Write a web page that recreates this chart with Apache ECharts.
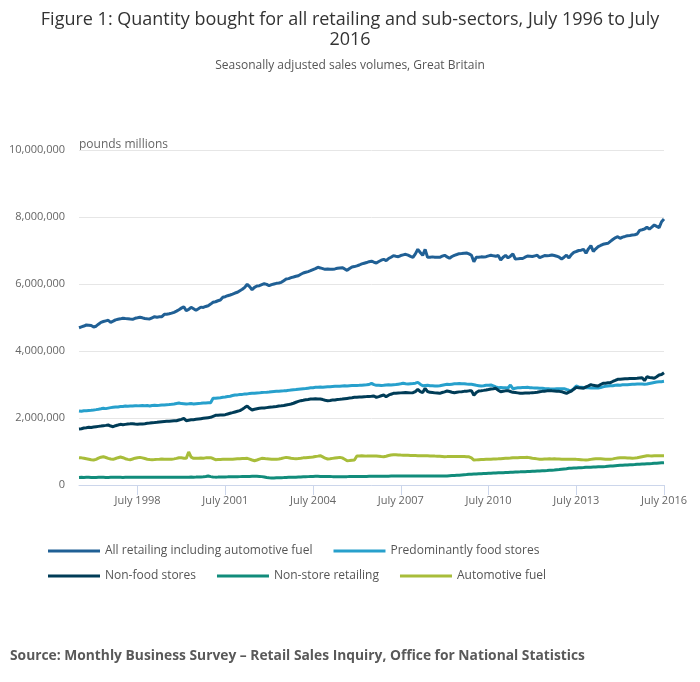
<!DOCTYPE html>
<html>
<head>
<meta charset="utf-8">
<title>Figure 1: Quantity bought for all retailing and sub-sectors</title>
<script src="https://cdn.jsdelivr.net/npm/echarts/dist/echarts.min.js"></script>
<style>
    html, body { margin: 0; padding: 0; background: #fff; }
    #chart { width: 700px; height: 682px; }
</style>
</head>
<body>
<div id="chart"></div>
<script>
// monthly values, July 1996 .. July 2016, in thousands of "pounds millions"
// one row = one year starting in July
const allRetailing = [
    4695, 4720, 4745, 4776, 4770, 4760, 4716, 4740, 4800, 4856, 4880, 4900,
    4916, 4856, 4890, 4930, 4946, 4960, 4976, 4970, 4965, 4955, 4946, 4975,
    4990, 5006, 4990, 4970, 4960, 4956, 4990, 5024, 5010, 5020, 5024, 5095,
    5100, 5110, 5130, 5155, 5190, 5233, 5280, 5323, 5203, 5240, 5304, 5260,
    5213, 5260, 5310, 5300, 5330, 5352, 5400, 5453, 5470, 5500, 5522, 5603,
    5620, 5650, 5672, 5700, 5730, 5752, 5800, 5842, 5900, 5991, 5920, 5830,
    5900, 5940, 5950, 5980, 6009, 5990, 5949, 5980, 6000, 6020, 6030, 6050,
    6100, 6149, 6160, 6190, 6209, 6230, 6248, 6290, 6328, 6350, 6370, 6397,
    6430, 6460, 6498, 6480, 6460, 6438, 6445, 6440, 6438, 6450, 6470, 6480,
    6487, 6450, 6408, 6460, 6507, 6520, 6540, 6567, 6600, 6620, 6640, 6666,
    6680, 6650, 6627, 6670, 6710, 6737, 6697, 6760, 6800, 6846, 6830, 6816,
    6850, 6870, 6887, 6860, 6826, 6796, 6900, 7035, 6940, 6856, 7035, 6796,
    6800, 6810, 6800, 6795, 6796, 6830, 6856, 6810, 6767, 6820, 6856, 6880,
    6906, 6910, 6920, 6925, 6900, 6856, 6666, 6796, 6800, 6810, 6805, 6816,
    6840, 6856, 6840, 6830, 6850, 6716, 6800, 6856, 6780, 6830, 6896, 6747,
    6750, 6760, 6760, 6800, 6836, 6830, 6820, 6840, 6856, 6790, 6820, 6850,
    6845, 6850, 6866, 6850, 6830, 6800, 6747, 6800, 6860, 6777, 6880, 6946,
    6970, 7000, 7010, 7035, 6916, 7050, 7143, 6975, 7050, 7114, 7150, 7184,
    7200, 7214, 7273, 7330, 7380, 7412, 7363, 7400, 7420, 7442, 7450, 7460,
    7470, 7492, 7601, 7620, 7641, 7700, 7640, 7700, 7761, 7720, 7681, 7860,
    7940
];
const foodStores = [
    2209, 2200, 2215, 2219, 2225, 2230, 2239, 2250, 2262, 2275, 2289, 2280,
    2295, 2310, 2319, 2325, 2330, 2340, 2345, 2358, 2350, 2355, 2360, 2365,
    2362, 2368, 2370, 2365, 2372, 2360, 2375, 2380, 2372, 2378, 2385, 2390,
    2395, 2400, 2408, 2420, 2435, 2448, 2430, 2425, 2418, 2422, 2430, 2420,
    2428, 2435, 2438, 2445, 2450, 2455, 2458, 2587, 2590, 2600, 2605, 2617,
    2625, 2640, 2650, 2670, 2687, 2690, 2700, 2705, 2715, 2720, 2728, 2736,
    2740, 2745, 2750, 2760, 2765, 2770, 2776, 2785, 2790, 2795, 2800, 2805,
    2810, 2816, 2825, 2835, 2845, 2850, 2860, 2868, 2876, 2880, 2890, 2900,
    2905, 2915, 2920, 2925, 2918, 2928, 2935, 2935, 2940, 2945, 2950, 2948,
    2955, 2960, 2958, 2965, 2968, 2970, 2972, 2975, 2980, 2985, 2990, 3000,
    3035, 2995, 2975, 2980, 2970, 2975, 2985, 2990, 2985, 2995, 3000, 3010,
    3020, 3035, 3020, 3015, 3025, 3030, 3040, 3065, 3010, 2965, 2970, 2975,
    2960, 2965, 2958, 2955, 2965, 2980, 2995, 3005, 3000, 3010, 3020, 3025,
    3030, 3020, 3025, 3015, 3010, 3005, 2990, 2975, 2965, 2955, 2960, 2975,
    2980, 2985, 2960, 2930, 2905, 2910, 2900, 2905, 2895, 2985, 2875, 2890,
    2900, 2905, 2910, 2912, 2915, 2905, 2900, 2898, 2895, 2890, 2888, 2880,
    2875, 2870, 2868, 2865, 2870, 2872, 2870, 2875, 2850, 2830, 2816, 2880,
    2955, 2930, 2915, 2910, 2905, 2900, 2898, 2895, 2900, 2895, 2910, 2930,
    2945, 2955, 2960, 2965, 2975, 2985, 2980, 2990, 2992, 2995, 3000, 3005,
    3010, 3015, 3012, 3018, 3010, 3015, 3030, 3045, 3060, 3075, 3080, 3085,
    3095
];
const nonFoodStores = [
    1672, 1680, 1700, 1710, 1722, 1715, 1730, 1740, 1750, 1760, 1771, 1780,
    1791, 1760, 1741, 1770, 1790, 1811, 1800, 1810, 1820, 1825, 1831, 1820,
    1815, 1818, 1821, 1830, 1840, 1850, 1861, 1865, 1870, 1880, 1890, 1895,
    1900, 1905, 1910, 1915, 1920, 1940, 1960, 1990, 1920, 1935, 1945, 1950,
    1960, 1970, 1980, 1990, 2000, 2010, 2020, 2050, 2080, 2085, 2088, 2090,
    2100, 2120, 2140, 2159, 2180, 2200, 2219, 2260, 2310, 2358, 2290, 2239,
    2260, 2275, 2289, 2295, 2300, 2310, 2319, 2325, 2335, 2345, 2358, 2365,
    2375, 2390, 2400, 2418, 2440, 2470, 2495, 2517, 2530, 2545, 2555, 2567,
    2570, 2575, 2570, 2567, 2550, 2530, 2517, 2525, 2535, 2540, 2550, 2557,
    2565, 2575, 2585, 2595, 2605, 2617, 2620, 2625, 2630, 2637, 2640, 2645,
    2650, 2657, 2617, 2640, 2665, 2687, 2637, 2680, 2710, 2736, 2740, 2745,
    2750, 2756, 2760, 2755, 2750, 2756, 2790, 2856, 2790, 2760, 2886, 2790,
    2766, 2760, 2750, 2745, 2736, 2760, 2780, 2806, 2790, 2770, 2756, 2770,
    2780, 2786, 2795, 2800, 2810, 2816, 2677, 2760, 2806, 2815, 2825, 2836,
    2850, 2865, 2875, 2886, 2830, 2786, 2800, 2810, 2816, 2790, 2766, 2760,
    2750, 2736, 2740, 2745, 2750, 2750, 2755, 2760, 2770, 2786, 2795, 2800,
    2810, 2816, 2810, 2805, 2800, 2795, 2786, 2760, 2736, 2770, 2800, 2860,
    2915, 2900, 2895, 2886, 2930, 2960, 2995, 2975, 2965, 2955, 3000, 3035,
    3040, 3050, 3055, 3090, 3120, 3154, 3160, 3165, 3170, 3174, 3178, 3180,
    3182, 3184, 3195, 3204, 3114, 3234, 3210, 3200, 3184, 3230, 3284, 3300,
    3353
];
const nonStoreRetailing = [
    225, 228, 226, 230, 228, 225, 224, 226, 228, 230, 229, 227,
    226, 228, 230, 231, 229, 228, 227, 229, 230, 232, 231, 230,
    229, 230, 231, 232, 230, 229, 231, 232, 233, 231, 230, 232,
    233, 234, 232, 231, 233, 234, 235, 233, 232, 234, 236, 235,
    236, 238, 240, 245, 255, 269, 250, 240, 235, 236, 238, 240,
    242, 243, 245, 244, 246, 248, 250, 252, 254, 255, 257, 258,
    259, 258, 255, 250, 240, 225, 215, 209, 212, 215, 218, 220,
    222, 225, 228, 230, 232, 235, 238, 240, 243, 246, 250, 254,
    257, 259, 258, 256, 255, 254, 252, 251, 250, 250, 249, 249,
    249, 250, 250, 251, 252, 252, 253, 254, 255, 256, 257, 258,
    258, 259, 259, 260, 261, 262, 263, 264, 265, 266, 267, 268,
    268, 269, 269, 270, 269, 268, 269, 270, 269, 268, 269, 270,
    269, 268, 269, 270, 269, 269, 269, 272, 276, 280, 284, 288,
    292, 298, 304, 310, 318, 322, 326, 330, 334, 338, 342, 346,
    350, 353, 356, 359, 362, 365, 368, 372, 375, 379, 382, 386,
    389, 392, 396, 399, 402, 405, 409, 413, 418, 421, 425, 429,
    433, 438, 443, 448, 455, 462, 470, 478, 486, 497, 502, 506,
    510, 514, 518, 522, 527, 530, 533, 536, 539, 542, 545, 547,
    552, 558, 564, 570, 576, 582, 587, 590, 594, 598, 602, 606,
    610, 617, 621, 625, 628, 632, 636, 640, 647, 652, 657, 662,
    667
];
const automotiveFuel = [
    815, 810, 800, 785, 770, 755, 746, 765, 800, 830, 845, 820,
    795, 775, 766, 790, 815, 835, 815, 785, 765, 756, 775, 800,
    815, 825, 810, 790, 770, 760, 756, 760, 765, 770, 776, 772,
    768, 766, 770, 780, 795, 815, 812, 800, 795, 985, 830, 795,
    798, 800, 805, 800, 810, 812, 815, 790, 756, 760, 762, 765,
    768, 765, 766, 770, 775, 780, 785, 790, 792, 795, 770, 745,
    726, 745, 770, 795, 790, 780, 775, 770, 768, 766, 775, 790,
    810, 825, 815, 800, 790, 785, 792, 800, 810, 815, 820, 825,
    835, 850, 862, 875, 840, 800, 776, 785, 795, 805, 815, 825,
    810, 770, 726, 730, 740, 746, 865, 868, 870, 866, 862, 865,
    866, 868, 865, 860, 850, 845, 860, 880, 895, 905, 900, 895,
    892, 890, 888, 885, 882, 880, 878, 876, 875, 875, 872, 870,
    868, 865, 862, 860, 855, 850, 845, 848, 852, 850, 848, 850,
    852, 850, 848, 845, 840, 810, 746, 750, 755, 760, 762, 766,
    770, 772, 775, 778, 780, 785, 790, 795, 800, 805, 815, 812,
    815, 818, 820, 822, 825, 815, 800, 790, 780, 766, 770, 775,
    778, 780, 778, 780, 778, 775, 772, 770, 768, 766, 766, 768,
    765, 760, 755, 750, 746, 755, 765, 775, 780, 785, 780, 775,
    770, 768, 766, 780, 795, 805, 815, 812, 810, 808, 805, 802,
    805, 815, 830, 845, 860, 875, 870, 868, 870, 872, 874, 875,
    875
];

// only these months get a label and a tick
const xTickLabels = ["July 1998", "July 2001", "July 2004", "July 2007", "July 2010", "July 2013", "July 2016"];
const monthNames = ["January", "February", "March", "April", "May", "June", "July",
    "August", "September", "October", "November", "December"];

const seriesNames = [
    "All retailing including automotive fuel",
    "Predominantly food stores",
    "Non-food stores",
    "Non-store retailing",
    "Automotive fuel"
];
const seriesColors = ["#206095", "#27a0cc", "#003c57", "#118c7b", "#a8bd3a"];

// category labels: July 1996 .. July 2016
let months = [];
for (let i = 0; i < allRetailing.length; i++) {
    const m = (6 + i) % 12;
    const y = 1996 + Math.floor((6 + i) / 12);
    months.push(monthNames[m] + " " + y);
}

const toUnits = function (arr) {
    return arr.map(function (v) { return v * 1000; });
};
const seriesData = [allRetailing, foodStores, nonFoodStores, nonStoreRetailing, automotiveFuel];

const font = "'Open Sans', 'Noto Sans', sans-serif";
const showTick = function (index, value) {
    return xTickLabels.indexOf(value) >= 0;
};
const legendBase = {
    left: 48,
    padding: 0,
    icon: 'rect',
    itemWidth: 52,
    itemHeight: 3,
    itemGap: 21,
    textStyle: { fontFamily: font, fontSize: 12, color: '#555' }
};

const myChart = echarts.init(document.getElementById('chart'), null, {renderer: 'canvas'});
myChart.setOption({
    animation: false,
    backgroundColor: "#fff",
    textStyle: { fontFamily: font },
    title: [
        {
            text: "Figure 1: Quantity bought for all retailing and sub-sectors, July 1996 to July\n2016",
            left: 'center',
            top: 10,
            padding: 0,
            textStyle: { fontFamily: font, fontSize: 18, fontWeight: 'normal', color: '#333', lineHeight: 20 }
        },
        {
            text: "Seasonally adjusted sales volumes, Great Britain",
            left: 'center',
            top: 60,
            padding: 0,
            textStyle: { fontFamily: font, fontSize: 12, fontWeight: 'normal', color: '#555' }
        },
        {
            text: "Source: Monthly Business Survey \u2013 Retail Sales Inquiry, Office for National Statistics",
            left: 10,
            top: 649,
            padding: 0,
            textStyle: { fontFamily: font, fontSize: 13.8, fontWeight: 'bold', color: '#595959' }
        }
    ],
    graphic: [
        {
            type: 'text',
            left: 79,
            top: 139,
            style: { text: "pounds millions", font: "12px " + font, fill: '#666' }
        }
    ],
    legend: [
        Object.assign({ data: seriesNames.slice(0, 2), top: 545 }, legendBase),
        Object.assign({ data: seriesNames.slice(2), top: 570 }, legendBase)
    ],
    grid: { left: 79, right: 36, top: 150, bottom: 197 },
    xAxis: {
        type: 'category',
        boundaryGap: false,
        data: months,
        axisLine: { lineStyle: { color: '#ccd6eb', width: 1 } },
        axisTick: { interval: showTick, length: 10, lineStyle: { color: '#ccd6eb' } },
        axisLabel: {
            interval: showTick,
            margin: 10,
            fontFamily: font,
            fontSize: 11,
            color: '#666'
        },
        splitLine: { show: false }
    },
    yAxis: {
        type: 'value',
        min: 0,
        max: 10000000,
        interval: 2000000,
        axisLine: { show: false },
        axisTick: { show: false },
        axisLabel: {
            margin: 14,
            fontFamily: font,
            fontSize: 11,
            color: '#666',
            formatter: function (v) { return v.toLocaleString('en-US'); }
        },
        splitLine: { lineStyle: { color: '#e6e6e6', width: 1 } }
    },
    series: seriesNames.map(function (name, i) {
        return {
            name: name,
            type: 'line',
            data: toUnits(seriesData[i]),
            showSymbol: false,
            symbol: 'none',
            color: seriesColors[i],
            lineStyle: { color: seriesColors[i], width: 3 }
        };
    })
});
</script>
</body>
</html>
